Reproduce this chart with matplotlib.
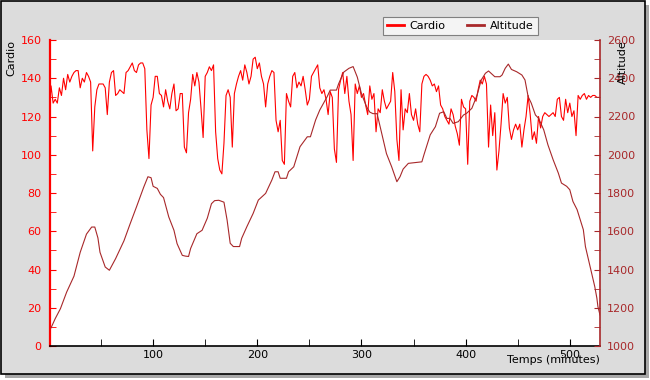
import numpy as np
import matplotlib.pyplot as plt
from matplotlib.patches import Rectangle
from matplotlib.ticker import MultipleLocator

# heart rate, one reading every 2 minutes from t=0
cardio = [122, 136, 127, 129, 127, 135, 131, 140, 134, 142,
          138, 141, 143, 144, 144, 135, 140, 138, 143, 141,
          138, 102, 125, 134, 137, 137, 137, 135, 121, 138,
          143, 144, 131, 132, 134, 133, 132, 143, 144, 146,
          148, 144, 143, 147, 148, 148, 145, 113, 98, 126,
          130, 141, 141, 132, 131, 125, 134, 128, 124, 132,
          137, 123, 124, 132, 132, 104, 101, 122, 129, 142,
          136, 143, 138, 124, 109, 141, 143, 146, 144, 147,
          112, 98, 92, 90, 106, 131, 134, 130, 104, 132,
          137, 141, 144, 139, 147, 143, 137, 141, 150, 151,
          145, 148, 141, 137, 125, 137, 141, 144, 143, 118,
          112, 118, 97, 95, 132, 128, 125, 141, 143, 135,
          138, 136, 141, 134, 126, 129, 141, 143, 145, 147,
          135, 132, 134, 129, 121, 133, 130, 103, 96, 134,
          139, 143, 132, 141, 128, 121, 97, 137, 132, 136,
          130, 132, 126, 121, 136, 129, 132, 112, 124, 122,
          134, 128, 124, 126, 128, 143, 133, 108, 97, 134,
          113, 124, 122, 132, 121, 118, 124, 116, 112, 137,
          141, 142, 141, 139, 136, 137, 133, 136, 126, 124,
          120, 118, 116, 124, 121, 115, 111, 105, 129, 125,
          124, 95, 128, 131, 130, 128, 134, 139, 137, 141,
          137, 104, 126, 110, 122, 92, 102, 116, 132, 127,
          130, 114, 108, 113, 116, 113, 116, 104, 113, 120,
          131, 121, 108, 112, 106, 120, 114, 120, 122, 121,
          120, 121, 122, 120, 129, 130, 120, 118, 129, 122,
          127, 120, 123, 110, 131, 129, 131, 132, 129, 131,
          130, 131, 131, 130, 130]
cardio_step = 2

altitude_t = [2, 6, 11, 17, 24, 30, 36, 41, 44, 47, 49, 54, 58, 64, 72, 78,
              84, 91, 95, 98, 100, 104, 107, 110, 113, 115, 120, 123, 128,
              131, 134, 136, 142, 147, 152, 156, 159, 163, 168, 171, 174,
              177, 183, 185, 190, 196, 201, 208, 211, 214, 217, 220, 222,
              228, 230, 235, 241, 248, 251, 256, 260, 267, 270, 276, 278,
              283, 288, 292, 296, 300, 305, 308, 311, 315, 318, 321, 324,
              329, 334, 337, 340, 345, 358, 360, 366, 371, 375, 379, 382,
              385, 388, 393, 398, 401, 406, 411, 415, 419, 422, 428, 433,
              435, 438, 441, 444, 449, 454, 457, 460, 463, 467, 470, 475,
              479, 484, 489, 492, 497, 500, 503, 507, 510, 513, 515, 518,
              521, 524, 526, 527, 529]
altitude_m = [1095, 1143, 1195, 1282, 1365, 1490, 1585, 1622, 1622, 1565,
              1490, 1413, 1396, 1457, 1550, 1640, 1727, 1831, 1885, 1880,
              1835, 1824, 1793, 1776, 1716, 1675, 1605, 1535, 1474, 1470,
              1468, 1510, 1587, 1605, 1668, 1744, 1760, 1762, 1752, 1659,
              1537, 1520, 1520, 1563, 1624, 1693, 1763, 1798, 1833, 1868,
              1911, 1911, 1877, 1877, 1911, 1937, 2042, 2094, 2094, 2182,
              2234, 2303, 2338, 2338, 2370, 2432, 2452, 2461, 2406, 2319,
              2250, 2223, 2215, 2215, 2145, 2075, 2006, 1937, 1859, 1885,
              1925, 1955, 1963, 2000, 2104, 2147, 2217, 2225, 2190, 2190,
              2164, 2173, 2208, 2217, 2243, 2312, 2391, 2426, 2438, 2408,
              2408, 2417, 2452, 2474, 2446, 2434, 2417, 2391, 2304, 2270,
              2208, 2191, 2130, 2052, 1974, 1904, 1852, 1835, 1817, 1756,
              1713, 1660, 1608, 1520, 1450, 1380, 1310, 1250, 1206, 1162]

red = '#ff0000'
brown = '#a8282a'
W, H = 650, 380

fig = plt.figure(figsize=(6.5, 3.8), dpi=100, facecolor='white')
# frame with drop shadow
fig.patches.append(Rectangle((4.5 / W, 2.5 / H), 644 / W, 373 / H, transform=fig.transFigure,
                             facecolor='#a8a8a8', edgecolor='none', zorder=-2))
fig.patches.append(Rectangle((0.5 / W, 6.5 / H), 644 / W, 373 / H, transform=fig.transFigure,
                             facecolor='#dcdcdc', edgecolor='black', lw=1.2, zorder=-1))

ax = fig.add_axes([50 / W, 34 / H, 550 / W, 306 / H])
ax.set_facecolor('white')
minutes = np.arange(len(cardio)) * cardio_step
l1, = ax.plot(minutes, cardio, color=red, lw=0.8, label='Cardio')

ax2 = ax.twinx()
l2, = ax2.plot(altitude_t, altitude_m, color=brown, lw=0.8, label='Altitude')

ax.set_xlim(1, 529)
ax.set_ylim(0, 160)
ax2.set_ylim(1000, 2600)

for a in (ax, ax2):
    a.spines['top'].set_visible(False)
ax.spines['right'].set_visible(False)
ax2.spines['left'].set_visible(False)
ax2.spines['bottom'].set_visible(False)
ax.spines['left'].set_color(red)
ax.spines['left'].set_linewidth(1.6)
ax.spines['bottom'].set_linewidth(1.2)
ax2.spines['right'].set_color(brown)
ax2.spines['right'].set_linewidth(1.2)

ax.xaxis.set_major_locator(MultipleLocator(100))
ax.xaxis.set_minor_locator(MultipleLocator(50))
ax.yaxis.set_major_locator(MultipleLocator(20))
ax.yaxis.set_minor_locator(MultipleLocator(10))
ax2.yaxis.set_major_locator(MultipleLocator(200))
ax2.yaxis.set_minor_locator(MultipleLocator(100))

ax.tick_params(axis='x', which='both', direction='in', length=5, pad=3, labelsize=8)
ax.tick_params(axis='y', which='both', direction='in', length=4, pad=6,
               colors=red, labelsize=8)
ax2.tick_params(axis='y', which='both', direction='in', length=4, pad=5,
                colors=brown, labelsize=8)

ax.set_ylabel('Cardio', loc='top', fontsize=8, labelpad=3)
ax2.text(1.042, 1.0, 'Altitude', rotation=90, ha='center', va='top',
         fontsize=8, transform=ax2.transAxes)
ax.set_xlabel('Temps (minutes)', loc='right', fontsize=8)
ax.xaxis.set_label_coords(1.0, -0.029)

leg = fig.legend([l1, l2], ['Cardio', 'Altitude'], ncol=2, loc='upper left',
                 bbox_to_anchor=(377 / W, 1 - 11 / H), fontsize=8, frameon=True,
                 fancybox=False, edgecolor='#808080', facecolor='#f4f4f4',
                 framealpha=1, handlelength=1.5, handletextpad=0.5,
                 columnspacing=2.0, borderpad=0.4)
leg.get_frame().set_linewidth(0.8)
for ln in leg.get_lines():
    ln.set_linewidth(2)

fig.savefig('out.png', dpi=100, facecolor=fig.get_facecolor())
